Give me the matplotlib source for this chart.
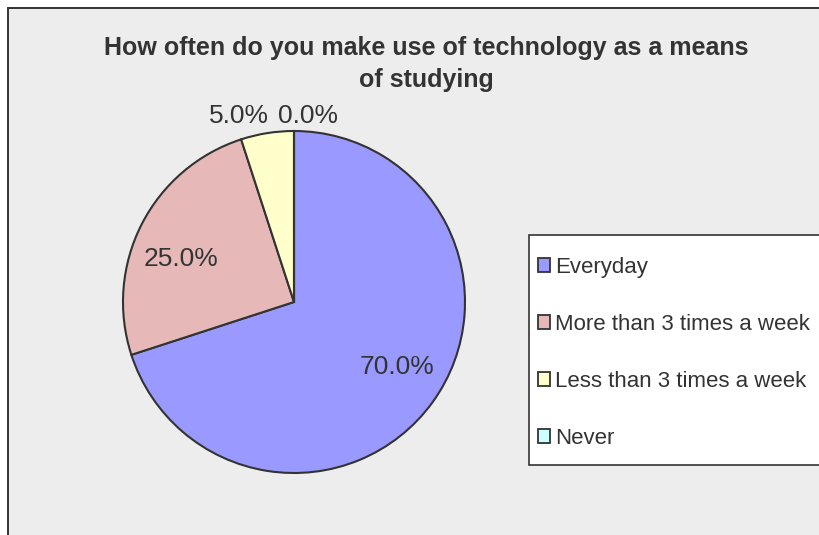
import matplotlib.pyplot as plt
from matplotlib.patches import Rectangle, Patch

plt.rcParams['font.family'] = ['Liberation Sans', 'DejaVu Sans']

categories = ['Everyday', 'More than 3 times a week', 'Less than 3 times a week', 'Never']
shares = [70.0, 25.0, 5.0, 0.0]
colors = ['#9999FF', '#E6B9B8', '#FFFFCC', '#CCFFFF']
title = 'How often do you make use of technology as a means\nof studying'

W, H = 819, 535
fig = plt.figure(figsize=(W / 100, H / 100), dpi=100)
ax = fig.add_axes([0, 0, 1, 1])

# chart area (grey panel with dark top/left border)
ax.add_patch(Rectangle((8, -20), W + 20, H - 8 + 20, facecolor='#EDEDED',
                       edgecolor='#333333', linewidth=1.4, zorder=0))

cx, cy, r = 294, H - 302, 171
wedges, texts, autotexts = ax.pie(
    shares, colors=colors, startangle=90, counterclock=False,
    center=(cx, cy), radius=r, autopct='%1.1f%%', pctdistance=0.7,
    wedgeprops=dict(edgecolor='#333333', linewidth=1.5),
    textprops=dict(fontsize=19, color='#333333'))

# small slices get their labels above the pie
autotexts[0].set_position((cx + 0.6 * r, cy - 0.38 * r))
autotexts[1].set_position((cx - 0.66 * r, cy + 0.25 * r))
autotexts[2].set_position((cx - 0.32 * r, cy + 1.09 * r))
autotexts[3].set_position((cx + 0.08 * r, cy + 1.09 * r))

ax.set_xlim(0, W)
ax.set_ylim(0, H)
ax.set_aspect('auto')
ax.axis('off')

ax.text(426, H - 64, title, ha='center', va='center', fontsize=18,
        fontweight='bold', color='#333333', linespacing=1.45)

# legend box
ax.add_patch(Rectangle((529, H - 465), 320, 230, facecolor='white',
                       edgecolor='#333333', linewidth=1.2, zorder=1))
handles = [Patch(facecolor=c, edgecolor='#333333', linewidth=1.3) for c in colors]
leg = ax.legend(handles, categories, loc='upper left',
                bbox_to_anchor=(538, H - 257), bbox_transform=ax.transData,
                frameon=False, fontsize=16, labelspacing=1.62,
                handlelength=0.55, handleheight=0.55, handletextpad=0.2,
                borderpad=0, borderaxespad=0, labelcolor='#333333')
leg.set_zorder(3)

fig.savefig('out.png', dpi=100)
